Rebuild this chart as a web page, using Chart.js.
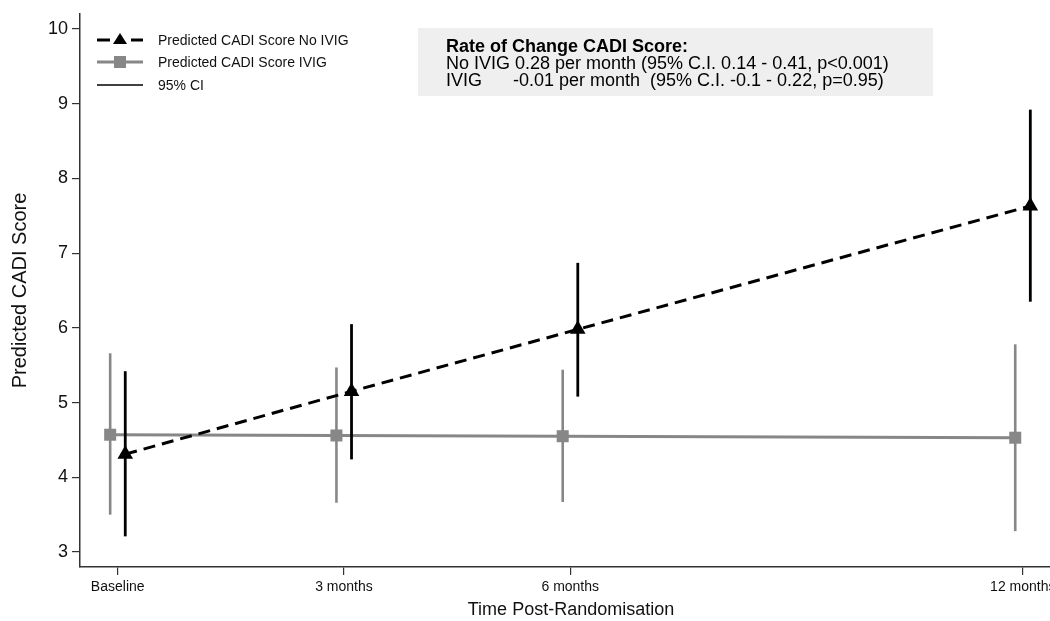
<!DOCTYPE html>
<html>
<head>
<meta charset="utf-8">
<script src="https://cdn.jsdelivr.net/npm/chart.js@4/dist/chart.umd.min.js"></script>
<style>
  html, body { margin: 0; padding: 0; background: #fff; overflow: hidden; }
  #wrap { width: 1071px; height: 621px; }
</style>
</head>
<body>
<div id="wrap"><canvas id="c" width="1071" height="621"></canvas></div>
<script>
// Follow-up visits (months since randomisation) and their labels
const months = [0, 3, 6, 12];
const monthLabels = ['Baseline', '3 months', '6 months', '12 months'];

// Predicted CADI score, no IVIG arm
const noIvigMean  = [4.31, 5.15, 5.98, 7.63];
const noIvigLower = [3.21, 4.24, 5.08, 6.35];
const noIvigUpper = [5.42, 6.05, 6.87, 8.92];

// Predicted CADI score, IVIG arm
const ivigMean  = [4.57, 4.56, 4.55, 4.53];
const ivigLower = [3.50, 3.66, 3.67, 3.28];
const ivigUpper = [5.66, 5.47, 5.44, 5.78];

const yTicks = [3, 4, 5, 6, 7, 8, 9, 10];

// Small horizontal dodge so the two arms do not overlap at each visit
const DODGE_NO_IVIG = 0.1;
const DODGE_IVIG = -0.1;

const BLACK = '#000000';
const GREY = '#878787';
const FONT = "'Liberation Sans', Arial, Helvetica, sans-serif";

function pts(xs, ys, dx) {
  return xs.map((x, i) => ({ x: x + dx, y: ys[i] }));
}

function ciDatasets(lower, upper, dx, color, width, order) {
  return months.map((m, i) => ({
    type: 'line',
    data: [{ x: m + dx, y: lower[i] }, { x: m + dx, y: upper[i] }],
    borderColor: color,
    borderWidth: width,
    pointRadius: 0,
    fill: false,
    order: order
  }));
}

const datasets = [
  ...ciDatasets(ivigLower, ivigUpper, DODGE_IVIG, GREY, 2.6, 4),
  {
    type: 'line',
    label: 'Predicted CADI Score IVIG',
    data: pts(months, ivigMean, DODGE_IVIG),
    borderColor: GREY,
    borderWidth: 3,
    pointStyle: 'rect',
    pointRadius: 8.5,
    pointBackgroundColor: GREY,
    pointBorderWidth: 0,
    fill: false,
    order: 3
  },
  ...ciDatasets(noIvigLower, noIvigUpper, DODGE_NO_IVIG, BLACK, 2.8, 2),
  {
    type: 'line',
    label: 'Predicted CADI Score No IVIG',
    data: pts(months, noIvigMean, DODGE_NO_IVIG),
    borderColor: BLACK,
    borderWidth: 3,
    borderDash: [12, 7],
    pointStyle: 'triangle',
    pointRadius: 9,
    pointBackgroundColor: BLACK,
    pointBorderWidth: 0,
    fill: false,
    order: 1
  }
];

// Legend block and the rate-of-change note, drawn inside the plot region
const overlayPlugin = {
  id: 'overlay',
  afterDraw(chart) {
    const ctx = chart.ctx;
    ctx.save();

    // legend
    const lx0 = 97, lx1 = 143, tx = 158;
    const rows = [40, 62, 85];
    ctx.font = '14px ' + FONT;
    ctx.textBaseline = 'middle';

    // row 1: dashed black with triangle
    ctx.strokeStyle = BLACK;
    ctx.lineWidth = 3;
    ctx.beginPath();
    ctx.moveTo(lx0, rows[0]); ctx.lineTo(lx0 + 13, rows[0]);
    ctx.moveTo(lx1 - 12, rows[0]); ctx.lineTo(lx1, rows[0]);
    ctx.stroke();
    ctx.fillStyle = BLACK;
    ctx.beginPath();
    ctx.moveTo(120, rows[0] - 7);
    ctx.lineTo(127, rows[0] + 4);
    ctx.lineTo(113, rows[0] + 4);
    ctx.closePath();
    ctx.fill();

    // row 2: grey with square
    ctx.strokeStyle = GREY;
    ctx.lineWidth = 3;
    ctx.beginPath();
    ctx.moveTo(lx0, rows[1]); ctx.lineTo(lx1, rows[1]);
    ctx.stroke();
    ctx.fillStyle = GREY;
    ctx.fillRect(114, rows[1] - 6, 12, 12);

    // row 3: thin black
    ctx.strokeStyle = BLACK;
    ctx.lineWidth = 1.6;
    ctx.beginPath();
    ctx.moveTo(lx0, rows[2]); ctx.lineTo(lx1, rows[2]);
    ctx.stroke();

    ctx.fillStyle = '#111';
    ctx.fillText('Predicted CADI Score No IVIG', tx, rows[0] + 1);
    ctx.fillText('Predicted CADI Score IVIG', tx, rows[1] + 1);
    ctx.fillText('95% CI', tx, rows[2] + 1);

    // rate-of-change note
    ctx.fillStyle = '#efefef';
    ctx.fillRect(418, 28, 515, 68);
    ctx.fillStyle = '#000';
    ctx.textBaseline = 'alphabetic';
    ctx.font = 'bold 18px ' + FONT;
    ctx.fillText('Rate of Change CADI Score:', 446, 52);
    ctx.font = '18px ' + FONT;
    ctx.fillText('No IVIG 0.28 per month (95% C.I. 0.14 - 0.41, p<0.001)', 446, 69);
    ctx.fillText('IVIG', 446, 86);
    ctx.fillText('-0.01 per month  (95% C.I. -0.1 - 0.22, p=0.95)', 513, 86);

    ctx.restore();
  }
};

new Chart(document.getElementById('c'), {
  type: 'line',
  data: { datasets },
  options: {
    responsive: false,
    animation: false,
    devicePixelRatio: 1,
    layout: { padding: { top: 14, left: 0, right: 0, bottom: 0 } },
    plugins: {
      legend: { display: false },
      tooltip: { enabled: false }
    },
    scales: {
      x: {
        type: 'linear',
        min: -0.5,
        max: 12.52,
        afterBuildTicks(scale) {
          scale.ticks = months.map(v => ({ value: v }));
        },
        afterFit(scale) {
          scale.height = 54;
          scale.paddingLeft = 0;
          scale.paddingRight = 0;
        },
        grid: {
          display: true,
          drawOnChartArea: false,
          drawTicks: true,
          tickLength: 8,
          color: '#333',
          lineWidth: 1.2
        },
        border: { display: true, color: '#333', width: 1.5 },
        ticks: {
          autoSkip: false,
          maxRotation: 0,
          padding: 4,
          color: '#111',
          font: { family: FONT, size: 14 },
          callback(value) {
            const i = months.indexOf(value);
            return i >= 0 ? monthLabels[i] : '';
          }
        },
        title: {
          display: true,
          text: 'Time Post-Randomisation',
          color: '#111',
          font: { family: FONT, size: 18 },
          padding: { top: 7, bottom: 0 }
        }
      },
      y: {
        type: 'linear',
        min: 2.8,
        max: 10.2,
        afterBuildTicks(scale) {
          scale.ticks = yTicks.map(v => ({ value: v }));
        },
        afterFit(scale) {
          scale.width = 80;
          scale.paddingTop = 0;
          scale.paddingBottom = 0;
        },
        grid: {
          display: true,
          drawOnChartArea: false,
          drawTicks: true,
          tickLength: 8,
          color: '#333',
          lineWidth: 1.2
        },
        border: { display: true, color: '#333', width: 1.5 },
        ticks: {
          padding: 4,
          color: '#111',
          font: { family: FONT, size: 18 },
          callback(value) { return String(value); }
        },
        title: {
          display: true,
          text: 'Predicted CADI Score',
          color: '#111',
          font: { family: FONT, size: 20 },
          padding: { top: 8, bottom: 0 }
        }
      }
    }
  },
  plugins: [overlayPlugin]
});
</script>
</body>
</html>
